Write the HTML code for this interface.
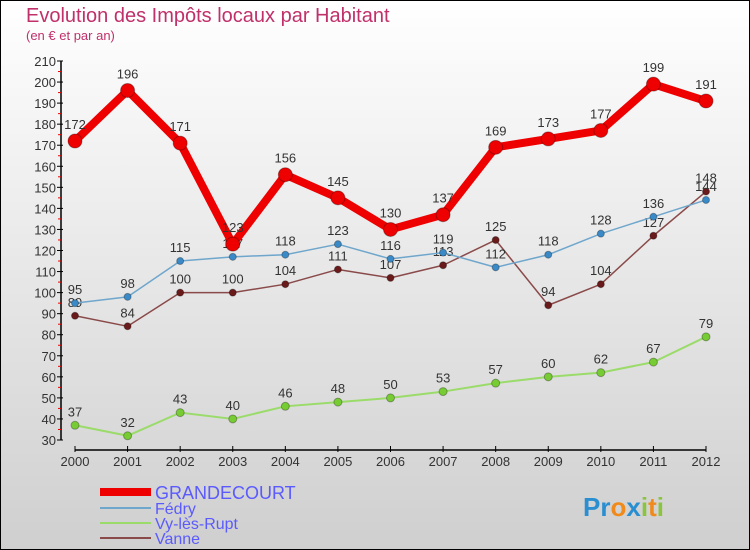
<!DOCTYPE html>
<html><head><meta charset="utf-8"><style>
body{margin:0;width:750px;height:550px;overflow:hidden;font-family:"Liberation Sans",sans-serif}
svg{display:block}
</style></head><body>
<svg width="750" height="550" xmlns="http://www.w3.org/2000/svg">
<defs><linearGradient id="bg" x1="0" y1="0" x2="0" y2="1"><stop offset="0" stop-color="#ffffff"/><stop offset="1" stop-color="#cfcfcf"/></linearGradient></defs>
<rect x="0.5" y="0.5" width="749" height="549" fill="url(#bg)" stroke="#000"/>
<text x="26" y="22" font-size="20" fill="#c0306a">Evolution des Impôts locaux par Habitant</text>
<text x="26" y="40" font-size="13" fill="#c0306a">(en € et par an)</text>
<g id="axes"></g>
<g id="series"></g>
<g>
<rect x="100" y="488" width="51" height="8" fill="#e00"/>
<text x="155" y="499" font-size="18" fill="#5a5aff">GRANDECOURT</text>
<rect x="100" y="507" width="51" height="2" fill="#6fa6cc"/>
<text x="155" y="514" font-size="16" fill="#5a5aff">Fédry</text>
<rect x="100" y="522" width="51" height="2" fill="#9adb6a"/>
<text x="155" y="529" font-size="16" fill="#5a5aff">Vy-lès-Rupt</text>
<rect x="100" y="537" width="51" height="2" fill="#8a4a4a"/>
<text x="155" y="544" font-size="16" fill="#5a5aff">Vanne</text>
</g>
<g font-size="26" font-weight="bold">
<text x="583" y="516"><tspan fill="#2a8fd0">Pr</tspan><tspan fill="#f08a1a">o</tspan><tspan fill="#2a8fd0">x</tspan><tspan fill="#8bc53f">i</tspan><tspan fill="#f08a1a">t</tspan><tspan fill="#8bc53f">i</tspan></text>
</g>
</svg>
<script>
const years=["2000","2001","2002","2003","2004","2005","2006","2007","2008","2009","2010","2011","2012"];
const grandecourt=[172,196,171,123,156,145,130,137,169,173,177,199,191];
const fedry=[95,98,115,117,118,123,116,119,112,118,128,136,144];
const vy=[37,32,43,40,46,48,50,53,57,60,62,67,79];
const vanne=[89,84,100,100,104,111,107,113,125,94,104,127,148];
const yTicks=[30,40,50,60,70,80,90,100,110,120,130,140,150,160,170,180,190,200,210];
const NS="http://www.w3.org/2000/svg";
const x=i=>75+i*(631/12);
const y=v=>440-(v-30)*(379/180);
function el(t,a,p){const e=document.createElementNS(NS,t);for(const k in a)e.setAttribute(k,a[k]);p.appendChild(e);return e;}
const ax=document.getElementById('axes');
el('line',{x1:61,y1:y(210),x2:61,y2:440,stroke:'#000','stroke-width':1.5},ax);
el('line',{x1:x(0),y1:450,x2:x(12),y2:450,stroke:'#000','stroke-width':1.5},ax);
yTicks.forEach(v=>{
 const t=el('line',{x1:57,x2:63,y1:y(v),y2:y(v),stroke:'#000'},ax);
 
 
 if(v<210){const m=el('line',{x1:58,x2:61,y1:y(v+5),y2:y(v+5),stroke:'#e00'},ax);
 
 }
 const l=el('text',{x:56,y:y(v)+5,'font-size':13,fill:'#333','text-anchor':'end'},ax);l.textContent=v;
 
 
});
years.forEach((yr,i)=>{
 el('line',{x1:x(i),x2:x(i),y1:446,y2:452,stroke:'#000'},ax);
 const l=el('text',{x:x(i),y:466,'font-size':13,fill:'#333','text-anchor':'middle'},ax);l.textContent=yr;
 
 
});
const sg=document.getElementById('series');
function draw(data,name,color,w,r,dot){
 const g=el('g',{},sg);
 
 
 const p=el('polyline',{points:data.map((v,i)=>x(i)+','+y(v)).join(' '),fill:'none',stroke:color,'stroke-width':w,'stroke-linejoin':'round'},g);
 
 
 data.forEach((v,i)=>{
  const c=el('circle',{cx:x(i),cy:y(v),r:r,fill:dot,stroke:'rgba(0,0,0,0.3)'},g);
  
  
  const t=el('text',{x:x(i),y:y(v)-9-(r>4?3:0),'font-size':13,fill:'#333','text-anchor':'middle'},g);t.textContent=v;
  
  
 });
}
draw(vy,'vy-les-rupt','#9adb6a',2,4,'#77cc33');
draw(vanne,'vanne','#8a4a4a',1.5,3.5,'#6a1a1a');
draw(fedry,'fedry','#6fa6cc',1.5,3.5,'#3a8ac8');
draw(grandecourt,'grandecourt','#ee0000',8,7,'#ee0000');
</script>
</body></html>
